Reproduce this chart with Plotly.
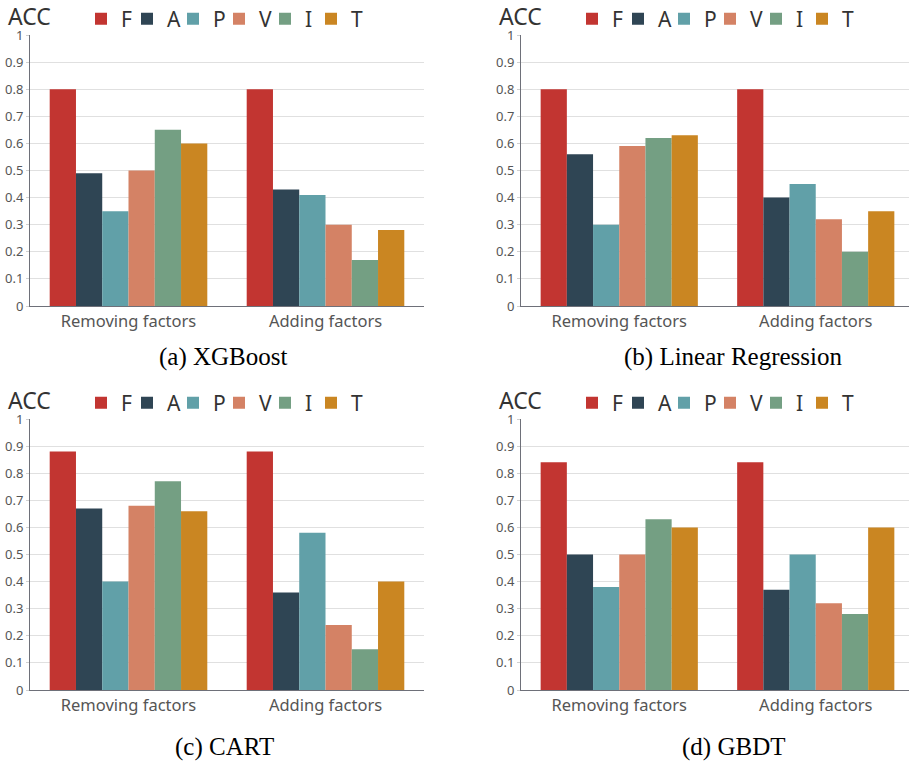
import plotly.graph_objects as go

categories = ["Removing factors", "Adding factors"]
series_names = ["F", "A", "P", "V", "I", "T"]
colors = ["#c23531", "#2f4554", "#61a0a8", "#d48265", "#749f83", "#ca8622"]
y_ticks = [0, 0.1, 0.2, 0.3, 0.4, 0.5, 0.6, 0.7, 0.8, 0.9, 1]
y_tick_labels = ["0", "0.1", "0.2", "0.3", "0.4", "0.5", "0.6", "0.7", "0.8", "0.9", "1"]

# values per model: [series][category]
xgboost = [[0.80, 0.80], [0.49, 0.43], [0.35, 0.41], [0.50, 0.30], [0.65, 0.17], [0.60, 0.28]]
linear_regression = [[0.80, 0.80], [0.56, 0.40], [0.30, 0.45], [0.59, 0.32], [0.62, 0.20], [0.63, 0.35]]
cart = [[0.88, 0.88], [0.67, 0.36], [0.40, 0.58], [0.68, 0.24], [0.77, 0.15], [0.66, 0.40]]
gbdt = [[0.84, 0.84], [0.50, 0.37], [0.38, 0.50], [0.50, 0.32], [0.63, 0.28], [0.60, 0.60]]

captions = ["(a) XGBoost", "(b) Linear Regression", "(c) CART", "(d) GBDT"]
models = [xgboost, linear_regression, cart, gbdt]

W, H = 909, 763
def px(x):
    return x / W
def py(y):
    return 1 - y / H

# panel geometry (pixels)
cols = [(30, 424), (521, 909)]
rows = [(35, 306), (419, 690)]
xranges = [[-0.5, 1.5], [-0.5, 1.4746]]

fig = go.Figure()
layout = dict(
    width=W, height=H, margin=dict(l=0, r=0, t=0, b=0, autoexpand=False),
    paper_bgcolor="white", plot_bgcolor="white",
    barmode="group", bargap=0.2, bargroupgap=0,
    showlegend=True, annotations=[], hovermode=False,
)

font_fam = "Noto Sans, Open Sans, sans-serif"
cap_centers = [(223, 357), (733, 357), (224, 747), (733, 747)]

for k, model in enumerate(models):
    r, c = divmod(k, 2)
    idx = "" if k == 0 else str(k + 1)
    xa, ya = "x" + idx, "y" + idx
    leg = "legend" + idx
    for s, name in enumerate(series_names):
        fig.add_trace(go.Bar(
            x=categories, y=model[s], name=name,
            marker=dict(color=colors[s], line=dict(width=0)),
            xaxis=xa, yaxis=ya, legend=leg, offsetgroup=name,
        ))
    # blank spacer entry so the last legend label is not clipped
    fig.add_trace(go.Scatter(
        x=[None], y=[None], name=" ", mode="markers",
        marker=dict(color="rgba(0,0,0,0)", size=1),
        xaxis=xa, yaxis=ya, legend=leg, showlegend=True,
    ))
    x0, x1 = cols[c]
    y0, y1 = rows[r]
    layout["xaxis" + idx] = dict(
        domain=[px(x0), px(x1)], range=xranges[c], anchor=ya,
        showgrid=False, showline=True, linecolor="#6e7079", linewidth=1,
        ticks="", tickfont=dict(family=font_fam, size=16.5, color="#555555"),
        fixedrange=True,
    )
    layout["yaxis" + idx] = dict(
        domain=[py(y1), py(y0)], range=[0, 1], anchor=xa,
        tickvals=y_ticks, ticktext=y_tick_labels,
        showgrid=True, gridcolor="#e0e0e0", gridwidth=1,
        showline=True, linecolor="#6e7079", linewidth=1,
        ticks="outside", ticklen=3, tickcolor="#d0d0d0",
        tickfont=dict(family=font_fam, size=13, color="#555555"),
        zeroline=False, fixedrange=True,
    )
    layout[leg] = dict(
        orientation="h", x=px(x0 + 51), xanchor="left",
        y=py(y0 - 16), yanchor="middle",
        font=dict(family=font_fam, size=21, color="#333333"),
        bgcolor="rgba(0,0,0,0)", borderwidth=0,
        entrywidth=1, entrywidthmode="pixels",
        traceorder="normal", itemclick=False, itemdoubleclick=False,
    )
    layout["annotations"].append(dict(
        text="ACC", xref="paper", yref="paper", x=px(x0 - 24), y=py(y0 - 19),
        xanchor="left", yanchor="middle", showarrow=False,
        font=dict(family=font_fam, size=23, color="#333333"),
    ))
    cx, cy = cap_centers[k]
    layout["annotations"].append(dict(
        text=captions[k], xref="paper", yref="paper", x=px(cx), y=py(cy),
        xanchor="center", yanchor="middle", showarrow=False,
        font=dict(family="Liberation Serif, Times New Roman, serif", size=25, color="#000000"),
    ))

fig.update_layout(**layout)
fig.write_html(
    "out.html",
    config={"displayModeBar": False},
    post_script="document.body.style.margin='0px';document.body.style.overflow='hidden';",
)
